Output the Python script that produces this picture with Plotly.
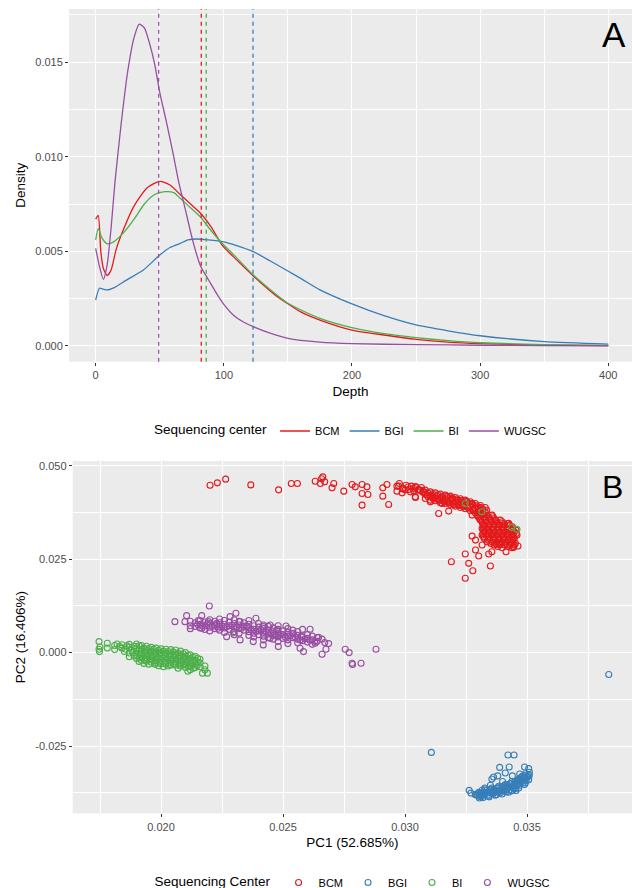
import plotly.graph_objects as go

# ---------------- shared ----------------
centers = ["BCM", "BGI", "BI", "WUGSC"]
colors = ["#E41A1C", "#377EB8", "#4DAF4A", "#984EA3"]

# ---------------- Panel A: depth density ----------------
bcm_depth = [0, 2, 4, 6, 9, 12, 16, 22, 30, 40, 50, 58, 66, 74, 82, 90, 99, 110, 123, 140, 160, 175, 200, 225, 250, 275, 300, 350, 400]
bcm_density = [0.0067, 0.0069, 0.0050, 0.0041, 0.00372, 0.0040, 0.0051, 0.0062, 0.0074, 0.00835, 0.0087, 0.0085, 0.0080, 0.0075, 0.0070, 0.0063, 0.0053, 0.00455, 0.0037, 0.0027, 0.0018, 0.00137, 0.00084, 0.00058, 0.00035, 0.0002, 0.00012, 0.00005, 0.00002]

bgi_depth = [0, 3, 6, 9, 15, 24, 37, 50, 58, 66, 72, 79, 88, 99, 110, 123, 136, 149, 160, 175, 200, 225, 250, 275, 300, 350, 400]
bgi_density = [0.00243, 0.00305, 0.0030, 0.00296, 0.0031, 0.00348, 0.0040, 0.0048, 0.0052, 0.00542, 0.0056, 0.00565, 0.0056, 0.00551, 0.0053, 0.00498, 0.0045, 0.0040, 0.00357, 0.00296, 0.00222, 0.0016, 0.00111, 0.0008, 0.00054, 0.00023, 0.0001]

bi_depth = [0, 2, 5, 9, 14, 22, 30, 38, 46, 54, 61, 66, 74, 82, 90, 99, 108, 123, 149, 175, 200, 225, 250, 275, 300, 350, 400]
bi_density = [0.0056, 0.0062, 0.0057, 0.0054, 0.0055, 0.0060, 0.0067, 0.0075, 0.0080, 0.00815, 0.0081, 0.0078, 0.0073, 0.0068, 0.0061, 0.0054, 0.0048, 0.00375, 0.0023, 0.00146, 0.00097, 0.00065, 0.00044, 0.00028, 0.00017, 0.00007, 0.00003]

wugsc_depth = [0, 3, 6, 9, 12, 15, 20, 25, 30, 34, 38, 42, 46, 50, 55, 60, 65, 70, 76, 82, 88, 95, 100, 108, 115, 123, 135, 150, 175, 200, 250, 300, 350, 400]
wugsc_density = [0.00516, 0.0042, 0.00352, 0.0043, 0.0062, 0.0086, 0.0118, 0.0145, 0.0163, 0.0170, 0.0168, 0.0160, 0.0149, 0.0134, 0.0119, 0.0103, 0.0086, 0.0072, 0.0055, 0.0042, 0.0035, 0.0027, 0.0022, 0.0016, 0.00128, 0.00102, 0.0007, 0.0004, 0.0002, 0.00012, 0.00007, 0.00004, 0.00002, 0.00001]

mean_depth = [82.4, 122.8, 86.3, 49.2]

depth_ticks = [0, 100, 200, 300, 400]
depth_labels = ["0", "100", "200", "300", "400"]
density_ticks = [0.0, 0.005, 0.010, 0.015]
density_labels = ["0.000", "0.005", "0.010", "0.015"]

# ---------------- Panel B: PCA (PC1, PC2) ----------------
bcm_points = [
    (0.02201, 0.04479), (0.02231, 0.04541), (0.02265, 0.04640), (0.02368, 0.04487), (0.02482, 0.04354),
    (0.02534, 0.04525), (0.02559, 0.04525), (0.02632, 0.04586), (0.02653, 0.04525), (0.02663, 0.04700),
    (0.02671, 0.04568), (0.02658, 0.04650), (0.02701, 0.04407), (0.02708, 0.04525), (0.02749, 0.04319),
    (0.02783, 0.04498), (0.02796, 0.04434), (0.02824, 0.04498), (0.02824, 0.04258), (0.02824, 0.03945),
    (0.02844, 0.04434), (0.02848, 0.04231), (0.02909, 0.04407), (0.02909, 0.04186), (0.02926, 0.04498),
    (0.02933, 0.03963), (0.02967, 0.04319), (0.02974, 0.04453), (0.02990, 0.04380), (0.03001, 0.04354),
    (0.03012, 0.04430), (0.03022, 0.04300), (0.03035, 0.04395), (0.03042, 0.04434), (0.03042, 0.04167),
    (0.03053, 0.04345), (0.03063, 0.04346), (0.03076, 0.04300),
    (0.02967, 0.04453), (0.02977, 0.04524), (0.02991, 0.04390), (0.03004, 0.04479), (0.03015, 0.04363),
    (0.03026, 0.04453), (0.03036, 0.04328), (0.03045, 0.04435), (0.03056, 0.04363), (0.03067, 0.04417),
    (0.03077, 0.04301), (0.02988, 0.04274), (0.03043, 0.04150),
    (0.03083, 0.04346), (0.03083, 0.04239), (0.03083, 0.04123),
    (0.03104, 0.04301), (0.03104, 0.04185), (0.03104, 0.04079),
    (0.03124, 0.04274), (0.03124, 0.04168), (0.03124, 0.04061),
    (0.03145, 0.04239), (0.03145, 0.04123), (0.03145, 0.04007),
    (0.03165, 0.04212), (0.03165, 0.04096), (0.03165, 0.03990),
    (0.03186, 0.04185), (0.03186, 0.04079), (0.03186, 0.03963),
    (0.03206, 0.04150), (0.03206, 0.04034), (0.03206, 0.03918),
    (0.03227, 0.04114), (0.03227, 0.04007), (0.03227, 0.03883),
    (0.03247, 0.04079), (0.03247, 0.03963), (0.03247, 0.03847),
    (0.03268, 0.04034), (0.03268, 0.03918), (0.03268, 0.03794),
    (0.03288, 0.03990), (0.03288, 0.03865), (0.03288, 0.03740),
    (0.03309, 0.03936), (0.03309, 0.03811), (0.03309, 0.03678),
    (0.03329, 0.03883), (0.03329, 0.03758), (0.03329, 0.03633),
    (0.03094, 0.04274), (0.03094, 0.04168), (0.03113, 0.04248), (0.03113, 0.04132), (0.03135, 0.04221),
    (0.03135, 0.04096), (0.03154, 0.04177), (0.03154, 0.04061), (0.03176, 0.04141), (0.03176, 0.04025),
    (0.03195, 0.04105), (0.03195, 0.03990), (0.03217, 0.04079), (0.03217, 0.03954), (0.03236, 0.04034),
    (0.03236, 0.03918), (0.03258, 0.04007), (0.03258, 0.03883), (0.03277, 0.03963), (0.03277, 0.03829),
    (0.03299, 0.03900), (0.03299, 0.03767), (0.03318, 0.03847), (0.03318, 0.03713),
    (0.03073, 0.04290), (0.03090, 0.04215), (0.03110, 0.04210), (0.03118, 0.04110), (0.03130, 0.04195),
    (0.03140, 0.04075), (0.03150, 0.04160), (0.03160, 0.04040), (0.03172, 0.04180), (0.03180, 0.04010),
    (0.03192, 0.04140), (0.03200, 0.03960), (0.03212, 0.04110), (0.03222, 0.03935), (0.03232, 0.04070),
    (0.03242, 0.03900), (0.03252, 0.04040), (0.03262, 0.03860), (0.03272, 0.03990), (0.03282, 0.03810),
    (0.03292, 0.03930), (0.03302, 0.03790), (0.03312, 0.03880), (0.03322, 0.03700), (0.03335, 0.03810),
    (0.03295, 0.03678), (0.03316, 0.03678), (0.03336, 0.03678), (0.03357, 0.03678),
    (0.03305, 0.03589), (0.03325, 0.03589), (0.03346, 0.03589), (0.03366, 0.03589),
    (0.03316, 0.03500), (0.03336, 0.03500), (0.03357, 0.03500), (0.03377, 0.03500), (0.03398, 0.03500),
    (0.03325, 0.03411), (0.03346, 0.03411), (0.03366, 0.03411), (0.03387, 0.03411), (0.03407, 0.03411), (0.03428, 0.03411),
    (0.03316, 0.03322), (0.03336, 0.03322), (0.03357, 0.03322), (0.03377, 0.03322), (0.03398, 0.03322), (0.03418, 0.03322), (0.03439, 0.03322),
    (0.03325, 0.03233), (0.03346, 0.03233), (0.03366, 0.03233), (0.03387, 0.03233), (0.03407, 0.03233), (0.03428, 0.03233), (0.03448, 0.03233),
    (0.03316, 0.03144), (0.03336, 0.03144), (0.03357, 0.03144), (0.03377, 0.03144), (0.03398, 0.03144), (0.03418, 0.03144), (0.03439, 0.03144), (0.03459, 0.03144),
    (0.03325, 0.03055), (0.03346, 0.03055), (0.03366, 0.03055), (0.03387, 0.03055), (0.03407, 0.03055), (0.03428, 0.03055), (0.03448, 0.03055),
    (0.03336, 0.02966), (0.03357, 0.02966), (0.03377, 0.02966), (0.03398, 0.02966), (0.03418, 0.02966), (0.03439, 0.02966),
    (0.03366, 0.02877), (0.03387, 0.02877), (0.03407, 0.02877), (0.03428, 0.02877), (0.03448, 0.02877),
    (0.03398, 0.02805), (0.03439, 0.02805),
    (0.03300, 0.03633), (0.03322, 0.03633), (0.03341, 0.03633), (0.03360, 0.03633),
    (0.03311, 0.03544), (0.03330, 0.03544), (0.03352, 0.03544), (0.03371, 0.03544), (0.03390, 0.03544),
    (0.03318, 0.03455), (0.03340, 0.03455), (0.03361, 0.03455), (0.03381, 0.03455), (0.03400, 0.03455), (0.03419, 0.03455),
    (0.03321, 0.03366), (0.03342, 0.03366), (0.03361, 0.03366), (0.03383, 0.03366), (0.03402, 0.03366), (0.03421, 0.03366), (0.03440, 0.03366),
    (0.03320, 0.03277), (0.03341, 0.03277), (0.03362, 0.03277), (0.03381, 0.03277), (0.03403, 0.03277), (0.03422, 0.03277), (0.03442, 0.03277), (0.03455, 0.03277),
    (0.03320, 0.03188), (0.03340, 0.03188), (0.03361, 0.03188), (0.03382, 0.03188), (0.03401, 0.03188), (0.03423, 0.03188), (0.03443, 0.03188), (0.03456, 0.03188),
    (0.03322, 0.03099), (0.03341, 0.03099), (0.03362, 0.03099), (0.03382, 0.03099), (0.03402, 0.03099), (0.03421, 0.03099), (0.03444, 0.03099),
    (0.03340, 0.03010), (0.03361, 0.03010), (0.03381, 0.03010), (0.03402, 0.03010), (0.03424, 0.03010), (0.03443, 0.03010),
    (0.03352, 0.02921), (0.03371, 0.02921), (0.03393, 0.02921), (0.03412, 0.02921), (0.03433, 0.02921), (0.03452, 0.02921),
    (0.03380, 0.02840), (0.03420, 0.02840), (0.03445, 0.02840),
    (0.03275, 0.03678), (0.03309, 0.03545), (0.03275, 0.03117), (0.03289, 0.03010), (0.03316, 0.02877),
    (0.03247, 0.02636), (0.03289, 0.02743), (0.03302, 0.02583), (0.03261, 0.02388), (0.03190, 0.02431),
    (0.03278, 0.02190), (0.03247, 0.01987), (0.03350, 0.02316), (0.03343, 0.02636), (0.03356, 0.02698),
    (0.03414, 0.02698), (0.03445, 0.02815), (0.03463, 0.02850), (0.03438, 0.03010), (0.03329, 0.03277),
    (0.03384, 0.02922), (0.03438, 0.03277), (0.03425, 0.03456), (0.03138, 0.03723), (0.03152, 0.03990),
    (0.03179, 0.03785), (0.03193, 0.04124), (0.03220, 0.04033), (0.03104, 0.04033), (0.03275, 0.03990),
    (0.03302, 0.03857),
]

bgi_points = [
    (0.03835, -0.00588), (0.03108, -0.02671), (0.03422, -0.02740), (0.03447, -0.02740), (0.03388, -0.03072),
    (0.03427, -0.03063), (0.03490, -0.03063), (0.03507, -0.03106), (0.03411, -0.03221), (0.03363, -0.03328),
    (0.03356, -0.03382), (0.03509, -0.03293), (0.03263, -0.03686), (0.03288, -0.03800), (0.03302, -0.03737),
    (0.03305, -0.03889), (0.03327, -0.03622),
    (0.03302, -0.03756), (0.03302, -0.03845), (0.03316, -0.03685), (0.03316, -0.03827),
    (0.03329, -0.03649), (0.03329, -0.03800), (0.03343, -0.03712), (0.03343, -0.03845),
    (0.03357, -0.03622), (0.03357, -0.03756), (0.03370, -0.03685), (0.03370, -0.03818),
    (0.03384, -0.03578), (0.03384, -0.03729), (0.03398, -0.03649), (0.03398, -0.03783),
    (0.03411, -0.03533), (0.03411, -0.03685), (0.03425, -0.03596), (0.03425, -0.03738),
    (0.03439, -0.03444), (0.03439, -0.03578), (0.03439, -0.03694), (0.03452, -0.03507), (0.03452, -0.03640),
    (0.03466, -0.03382), (0.03466, -0.03507), (0.03466, -0.03622), (0.03480, -0.03311), (0.03480, -0.03444),
    (0.03493, -0.03240), (0.03493, -0.03373), (0.03493, -0.03489), (0.03507, -0.03267), (0.03507, -0.03400),
    (0.03309, -0.03792), (0.03322, -0.03738), (0.03336, -0.03738), (0.03350, -0.03667), (0.03364, -0.03712),
    (0.03377, -0.03631), (0.03391, -0.03694), (0.03405, -0.03596), (0.03418, -0.03631), (0.03432, -0.03507),
    (0.03446, -0.03560), (0.03459, -0.03444), (0.03473, -0.03382), (0.03486, -0.03356), (0.03500, -0.03311),
    (0.03289, -0.03800), (0.03270, -0.03760), (0.03320, -0.03880), (0.03380, -0.03300), (0.03440, -0.03300),
    (0.03470, -0.03250), (0.03350, -0.03550), (0.03400, -0.03450),
    (0.03296, -0.03810), (0.03310, -0.03760), (0.03312, -0.03860), (0.03323, -0.03780), (0.03334, -0.03690),
    (0.03338, -0.03820), (0.03348, -0.03740), (0.03352, -0.03650), (0.03362, -0.03770), (0.03366, -0.03660),
    (0.03375, -0.03730), (0.03380, -0.03620), (0.03389, -0.03760), (0.03393, -0.03600), (0.03402, -0.03700),
    (0.03407, -0.03560), (0.03415, -0.03660), (0.03420, -0.03540), (0.03428, -0.03680), (0.03434, -0.03500),
    (0.03444, -0.03620), (0.03449, -0.03460), (0.03457, -0.03570), (0.03462, -0.03410), (0.03470, -0.03550),
    (0.03476, -0.03340), (0.03484, -0.03480), (0.03488, -0.03290), (0.03497, -0.03430), (0.03502, -0.03330),
    (0.03455, -0.03690), (0.03415, -0.03730), (0.03375, -0.03800), (0.03345, -0.03860), (0.03490, -0.03530),
    (0.03510, -0.03200),
]

bi_points = [
    (0.01746, 0.00294), (0.01746, 0.00091), (0.01748, 0.00027), (0.01750, 0.00150),
    (0.01780, 0.00251), (0.01780, 0.00120),
    (0.01810, 0.00190), (0.01810, 0.00080), (0.01820, 0.00230),
    (0.01840, 0.00210), (0.01840, 0.00120), (0.01850, 0.00030), (0.01830, 0.00160),
    (0.01870, 0.00220), (0.01870, 0.00140), (0.01870, -0.00010), (0.01870, -0.00110), (0.01880, 0.00060),
    (0.01900, 0.00230), (0.01900, 0.00130), (0.01900, 0.00040), (0.01900, -0.00060), (0.01900, -0.00160), (0.01910, -0.00240),
    (0.01920, 0.00190), (0.01920, 0.00090), (0.01920, -0.00010), (0.01920, -0.00110), (0.01920, -0.00210), (0.01930, -0.00290),
    (0.01940, 0.00170), (0.01940, 0.00070), (0.01940, -0.00030), (0.01940, -0.00130), (0.01940, -0.00230), (0.01950, -0.00310),
    (0.01960, 0.00140), (0.01960, 0.00040), (0.01960, -0.00060), (0.01960, -0.00160), (0.01960, -0.00260),
    (0.01980, 0.00120), (0.01980, 0.00020), (0.01980, -0.00080), (0.01980, -0.00180), (0.01980, -0.00280), (0.01990, -0.00350),
    (0.02000, 0.00100), (0.02000, 0.00000), (0.02000, -0.00100), (0.02000, -0.00200), (0.02000, -0.00300),
    (0.02020, 0.00090), (0.02020, -0.00010), (0.02020, -0.00110), (0.02020, -0.00210), (0.02020, -0.00310), (0.02010, -0.00380),
    (0.02040, 0.00080), (0.02040, -0.00030), (0.02040, -0.00130), (0.02040, -0.00230), (0.02040, -0.00330),
    (0.02060, 0.00070), (0.02060, -0.00040), (0.02060, -0.00140), (0.02060, -0.00240), (0.02060, -0.00340), (0.02070, -0.00420),
    (0.02080, 0.00040), (0.02080, -0.00060), (0.02080, -0.00160), (0.02080, -0.00260), (0.02080, -0.00360),
    (0.02100, 0.00000), (0.02100, -0.00100), (0.02100, -0.00200), (0.02100, -0.00300), (0.02100, -0.00400), (0.02110, -0.00500),
    (0.02120, -0.00060), (0.02120, -0.00160), (0.02120, -0.00260), (0.02120, -0.00360), (0.02120, -0.00460),
    (0.02140, -0.00100), (0.02140, -0.00200), (0.02140, -0.00300), (0.02140, -0.00400),
    (0.02160, -0.00180), (0.02160, -0.00280), (0.02160, -0.00380),
    (0.02180, -0.00360), (0.02180, -0.00460), (0.02190, -0.00550), (0.02170, -0.00550),
    (0.01910, 0.00180), (0.01912, 0.00080), (0.01915, -0.00030), (0.01912, -0.00140), (0.01930, 0.00120),
    (0.01932, 0.00010), (0.01930, -0.00080), (0.01933, -0.00190), (0.01950, 0.00110), (0.01952, 0.00000),
    (0.01948, -0.00090), (0.01953, -0.00200), (0.01970, 0.00090), (0.01972, -0.00020), (0.01968, -0.00120),
    (0.01972, -0.00220), (0.01975, -0.00310), (0.01990, 0.00060), (0.01992, -0.00040), (0.01988, -0.00150),
    (0.01993, -0.00250), (0.02010, 0.00040), (0.02012, -0.00060), (0.02008, -0.00160), (0.02013, -0.00260),
    (0.02030, 0.00030), (0.02032, -0.00080), (0.02028, -0.00180), (0.02033, -0.00280), (0.02030, -0.00360),
    (0.02050, 0.00020), (0.02052, -0.00090), (0.02048, -0.00190), (0.02053, -0.00290), (0.02070, -0.00010),
    (0.02072, -0.00110), (0.02068, -0.00210), (0.02073, -0.00310), (0.02090, -0.00030), (0.02092, -0.00130),
    (0.02088, -0.00230), (0.02093, -0.00330), (0.02110, -0.00070), (0.02112, -0.00170), (0.02108, -0.00270),
    (0.02113, -0.00380), (0.02130, -0.00120), (0.02132, -0.00220), (0.02128, -0.00320), (0.02133, -0.00420),
    (0.02150, -0.00150), (0.02152, -0.00250), (0.02148, -0.00350), (0.01860, 0.00180), (0.01855, 0.00090),
    (0.01890, 0.00170), (0.01885, 0.00000), (0.01890, -0.00090),
    (0.03438, 0.03350), (0.03315, 0.03767), (0.03247, 0.03990), (0.03459, 0.03300),
    (0.02296, 0.00534), (0.02481, 0.00473),
]

wugsc_points = [
    (0.02057, 0.00828), (0.02098, 0.00828), (0.02105, 0.00988), (0.02153, 0.00855), (0.02167, 0.00988),
    (0.02167, 0.00652), (0.02194, 0.00828), (0.02198, 0.01247), (0.02228, 0.00785), (0.02235, 0.00652),
    (0.02283, 0.00962), (0.02307, 0.01052), (0.02324, 0.00828), (0.02351, 0.00694), (0.02389, 0.00919),
    (0.02419, 0.00694), (0.02447, 0.00740), (0.02474, 0.00606), (0.02512, 0.00713), (0.02542, 0.00518),
    (0.02576, 0.00427), (0.02611, 0.00625), (0.02447, 0.00385), (0.02481, 0.00160), (0.02570, 0.00117),
    (0.02584, 0.00027), (0.02419, 0.00205), (0.02269, 0.00427), (0.02324, 0.00339), (0.02378, 0.00294),
    (0.02646, 0.00411), (0.02632, 0.00251), (0.02671, 0.00267), (0.02687, 0.00240), (0.02676, 0.00091),
    (0.02660, -0.00043), (0.02755, 0.00091), (0.02771, 0.00000), (0.02783, -0.00284), (0.02785, -0.00320),
    (0.02820, -0.00284), (0.02881, 0.00091),
    (0.02120, 0.00840), (0.02120, 0.00720), (0.02120, 0.00640),
    (0.02140, 0.00800), (0.02140, 0.00700),
    (0.02160, 0.00860), (0.02160, 0.00760), (0.02160, 0.00660),
    (0.02180, 0.00820), (0.02180, 0.00720), (0.02180, 0.00620),
    (0.02200, 0.00880), (0.02200, 0.00780), (0.02200, 0.00680), (0.02200, 0.00580),
    (0.02220, 0.00840), (0.02220, 0.00740), (0.02220, 0.00640),
    (0.02240, 0.00900), (0.02240, 0.00800), (0.02240, 0.00700), (0.02240, 0.00600),
    (0.02260, 0.00860), (0.02260, 0.00760), (0.02260, 0.00660), (0.02260, 0.00540),
    (0.02280, 0.00820), (0.02280, 0.00720), (0.02280, 0.00620),
    (0.02300, 0.00880), (0.02300, 0.00780), (0.02300, 0.00680), (0.02300, 0.00560), (0.02300, 0.00480),
    (0.02320, 0.00840), (0.02320, 0.00740), (0.02320, 0.00640), (0.02320, 0.00520),
    (0.02340, 0.00800), (0.02340, 0.00700), (0.02340, 0.00600),
    (0.02360, 0.00860), (0.02360, 0.00760), (0.02360, 0.00660), (0.02360, 0.00560), (0.02360, 0.00460),
    (0.02380, 0.00720), (0.02380, 0.00620), (0.02380, 0.00520), (0.02380, 0.00420),
    (0.02400, 0.00780), (0.02400, 0.00680), (0.02400, 0.00580), (0.02400, 0.00480),
    (0.02420, 0.00740), (0.02420, 0.00640), (0.02420, 0.00540), (0.02420, 0.00440), (0.02420, 0.00340),
    (0.02440, 0.00700), (0.02440, 0.00600), (0.02440, 0.00500), (0.02440, 0.00400),
    (0.02460, 0.00660), (0.02460, 0.00560), (0.02460, 0.00460), (0.02460, 0.00360),
    (0.02480, 0.00720), (0.02480, 0.00620), (0.02480, 0.00520), (0.02480, 0.00420), (0.02480, 0.00300),
    (0.02500, 0.00580), (0.02500, 0.00480), (0.02500, 0.00380),
    (0.02520, 0.00640), (0.02520, 0.00540), (0.02520, 0.00440), (0.02520, 0.00340), (0.02520, 0.00240),
    (0.02540, 0.00600), (0.02540, 0.00500), (0.02540, 0.00400),
    (0.02560, 0.00560), (0.02560, 0.00460), (0.02560, 0.00360), (0.02560, 0.00260),
    (0.02580, 0.00620), (0.02580, 0.00420), (0.02580, 0.00320),
    (0.02600, 0.00480), (0.02600, 0.00380), (0.02600, 0.00280),
    (0.02620, 0.00440), (0.02620, 0.00340), (0.02620, 0.00220),
    (0.02640, 0.00400), (0.02640, 0.00300),
    (0.02660, 0.00360),
    (0.02150, 0.00750), (0.02170, 0.00710), (0.02190, 0.00770), (0.02210, 0.00700), (0.02230, 0.00750),
    (0.02250, 0.00710), (0.02270, 0.00690), (0.02290, 0.00730), (0.02310, 0.00690), (0.02330, 0.00650),
    (0.02350, 0.00710), (0.02370, 0.00610), (0.02390, 0.00570), (0.02410, 0.00600), (0.02430, 0.00560),
    (0.02450, 0.00510), (0.02470, 0.00470), (0.02490, 0.00490), (0.02510, 0.00410), (0.02530, 0.00450),
    (0.02550, 0.00410), (0.02570, 0.00340), (0.02590, 0.00370), (0.02610, 0.00330), (0.02630, 0.00300),
]

pc1_ticks = [0.020, 0.025, 0.030, 0.035]
pc1_labels = ["0.020", "0.025", "0.030", "0.035"]
pc2_ticks = [-0.025, 0.000, 0.025, 0.050]
pc2_labels = ["-0.025", "0.000", "0.025", "0.050"]

# ---------------- figure ----------------
W, H = 632, 888
FONT = "Liberation Sans, Arial, Helvetica, sans-serif"

fig = go.Figure()

density_sets = [(bcm_depth, bcm_density), (bgi_depth, bgi_density),
                (bi_depth, bi_density), (wugsc_depth, wugsc_density)]
for name, col, (xs, ys) in zip(centers, colors, density_sets):
    fig.add_trace(go.Scatter(
        x=xs, y=ys, mode="lines", name=name,
        line=dict(color=col, width=1.3, shape="spline", smoothing=0.6),
        xaxis="x", yaxis="y", legend="legend", hoverinfo="skip"))

for m, col in zip(mean_depth, colors):
    fig.add_shape(type="line", xref="x", yref="y domain", x0=m, x1=m, y0=0, y1=1,
                  line=dict(color=col, width=1.3, dash="4px,4px"), layer="above")

point_sets = [bcm_points, bgi_points, bi_points, wugsc_points]
for name, col, pts in zip(centers, colors, point_sets):
    fig.add_trace(go.Scatter(
        x=[p[0] for p in pts], y=[p[1] for p in pts], mode="markers", name=name,
        marker=dict(symbol="circle-open", size=6, color=col, line=dict(width=1.1, color=col)),
        xaxis="x2", yaxis="y2", legend="legend2", hoverinfo="skip"))


def axis_style(**kw):
    d = dict(showgrid=True, gridcolor="white", gridwidth=1.1, zeroline=False,
             ticks="outside", ticklen=3, tickwidth=1, tickcolor="#333333",
             tickfont=dict(size=11, color="#4D4D4D", family=FONT),
             showline=False, automargin=False, tickmode="array")
    d.update(kw)
    return d


def px_x(p):
    return p / W


def px_y(p):
    return 1 - p / H


fig.update_layout(
    width=W, height=H,
    margin=dict(l=0, r=0, t=0, b=0, autoexpand=False),
    paper_bgcolor="white", plot_bgcolor="#EBEBEB",
    font=dict(family=FONT, color="black"),
    showlegend=True,
    xaxis=axis_style(
        domain=[px_x(69), 1.0], range=[-20.8, 418.5], anchor="y",
        tickvals=depth_ticks, ticktext=depth_labels,
        minor=dict(tickvals=[50, 150, 250, 350], showgrid=True, gridcolor="white", gridwidth=0.55, ticks=""),
        title=dict(text="Depth", font=dict(size=13.5, color="black"), standoff=6)),
    yaxis=axis_style(
        domain=[px_y(361.7), px_y(9)], range=[-0.00083, 0.0178], anchor="x",
        tickvals=density_ticks, ticktext=density_labels,
        minor=dict(tickvals=[0.0025, 0.0075, 0.0125, 0.0175], showgrid=True, gridcolor="white", gridwidth=0.55, ticks=""),
        title=dict(text="Density", font=dict(size=13.5, color="black"), standoff=6)),
    xaxis2=axis_style(
        domain=[px_x(72.7), 1.0], range=[0.016381, 0.039303], anchor="y2",
        tickvals=pc1_ticks, ticktext=pc1_labels,
        minor=dict(tickvals=[0.0175, 0.0225, 0.0275, 0.0325, 0.0375], showgrid=True, gridcolor="white", gridwidth=0.55, ticks=""),
        title=dict(text="PC1 (52.685%)", font=dict(size=13.5, color="black"), standoff=6)),
    yaxis2=axis_style(
        domain=[px_y(813.3), px_y(461)], range=[-0.0430, 0.05126], anchor="x2",
        tickvals=pc2_ticks, ticktext=pc2_labels,
        minor=dict(tickvals=[-0.0375, -0.0125, 0.0125, 0.0375], showgrid=True, gridcolor="white", gridwidth=0.55, ticks=""),
        title=dict(text="PC2 (16.406%)", font=dict(size=13.5, color="black"), standoff=6)),
    legend=dict(
        orientation="h", x=px_x(352), xanchor="center", y=px_y(431), yanchor="middle",
        title=dict(text="Sequencing center", side="left", font=dict(size=13.5, color="black")),
        font=dict(size=11, color="black"), bgcolor="rgba(0,0,0,0)", itemwidth=30),
    legend2=dict(
        orientation="h", x=px_x(354), xanchor="center", y=-9 / H, yanchor="bottom",
        title=dict(text="Sequencing Center", side="left", font=dict(size=13.5, color="black")),
        font=dict(size=11, color="black"), bgcolor="rgba(0,0,0,0)", itemwidth=30),
    annotations=[
        dict(text="A", xref="paper", yref="paper", x=px_x(600), y=px_y(35), xanchor="left", yanchor="middle",
             showarrow=False, font=dict(size=35, color="black", family=FONT)),
        dict(text="B", xref="paper", yref="paper", x=px_x(600), y=px_y(487), xanchor="left", yanchor="middle",
             showarrow=False, font=dict(size=32, color="black", family=FONT)),
    ],
)

fig.write_html(
    "out.html",
    config={"displayModeBar": False},
    post_script="document.body.style.margin='0px';document.body.style.overflow='hidden';",
)
